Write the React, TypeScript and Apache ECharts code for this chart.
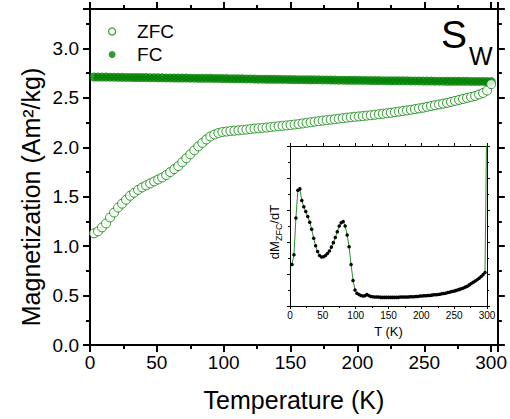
import React, { useEffect, useRef } from "react";
import * as echarts from "echarts";

// Temperatures (K) at which the points are shown
const temps: number[] = [
  3, 6, 9, 12, 15, 18, 21, 24, 27, 30,
  33, 36, 39, 42, 45, 48, 51, 54, 57, 60,
  63, 66, 69, 72, 75, 78, 81, 84, 87, 90,
  93, 96, 99, 102, 105, 108, 111, 114, 117, 120,
  123, 126, 129, 132, 135, 138, 141, 144, 147, 150,
  153, 156, 159, 162, 165, 168, 171, 174, 177, 180,
  183, 186, 189, 192, 195, 198, 201, 204, 207, 210,
  213, 216, 219, 222, 225, 228, 231, 234, 237, 240,
  243, 246, 249, 252, 255, 258, 261, 264, 267, 270,
  273, 276, 279, 282, 285, 288, 291, 294, 297, 300,
];

// ZFC magnetization (Am2/kg)
const zfcValues: number[] = [
  1.13, 1.15, 1.19, 1.23, 1.29, 1.34, 1.39, 1.43, 1.47, 1.51,
  1.54, 1.57, 1.595, 1.615, 1.635, 1.655, 1.675, 1.695, 1.72, 1.75,
  1.78, 1.81, 1.85, 1.89, 1.93, 1.97, 2.01, 2.045, 2.08, 2.11,
  2.13, 2.145, 2.155, 2.16, 2.165, 2.168, 2.172, 2.176, 2.18, 2.185,
  2.19, 2.193, 2.197, 2.2, 2.205, 2.21, 2.214, 2.218, 2.222, 2.226,
  2.231, 2.236, 2.242, 2.248, 2.254, 2.26, 2.265, 2.27, 2.275, 2.28,
  2.285, 2.29, 2.295, 2.3, 2.305, 2.309, 2.313, 2.317, 2.321, 2.325,
  2.33, 2.335, 2.34, 2.345, 2.35, 2.356, 2.362, 2.368, 2.374, 2.38,
  2.387, 2.394, 2.401, 2.41, 2.418, 2.426, 2.434, 2.442, 2.45, 2.46,
  2.47, 2.48, 2.49, 2.5, 2.51, 2.52, 2.535, 2.55, 2.575, 2.64,
];

// FC magnetization (Am2/kg)
const fcValues: number[] = [
  2.712, 2.712, 2.711, 2.711, 2.71, 2.71, 2.709, 2.709, 2.708, 2.708,
  2.707, 2.707, 2.706, 2.706, 2.705, 2.705, 2.704, 2.704, 2.703, 2.703,
  2.702, 2.702, 2.701, 2.701, 2.7, 2.7, 2.699, 2.699, 2.698, 2.698,
  2.697, 2.697, 2.696, 2.696, 2.695, 2.694, 2.694, 2.693, 2.692, 2.692,
  2.691, 2.69, 2.69, 2.689, 2.689, 2.688, 2.688, 2.687, 2.687, 2.686,
  2.686, 2.685, 2.685, 2.684, 2.684, 2.683, 2.683, 2.682, 2.682, 2.681,
  2.681, 2.68, 2.68, 2.679, 2.679, 2.678, 2.678, 2.677, 2.677, 2.676,
  2.676, 2.676, 2.675, 2.675, 2.674, 2.674, 2.674, 2.673, 2.673, 2.672,
  2.672, 2.672, 2.671, 2.671, 2.671, 2.67, 2.67, 2.67, 2.669, 2.669,
  2.669, 2.668, 2.668, 2.668, 2.667, 2.667, 2.667, 2.667, 2.666, 2.666,
];

// Inset: dM_ZFC/dT (arbitrary units)
const dMdTValues: number[] = [
  1.3, 1.6, 2.75, 3.62, 3.66, 3.3, 3.1, 2.95, 2.8, 2.62,
  2.4, 2.12, 1.88, 1.7, 1.58, 1.53, 1.54, 1.58, 1.64, 1.72,
  1.84, 1.98, 2.14, 2.32, 2.5, 2.6, 2.64, 2.5, 2.22, 1.85,
  1.3, 0.8, 0.5, 0.4, 0.36, 0.33, 0.31, 0.32, 0.36, 0.33,
  0.3, 0.29, 0.28, 0.28, 0.28, 0.27, 0.27, 0.27, 0.27, 0.27,
  0.27, 0.27, 0.27, 0.27, 0.27, 0.28, 0.28, 0.28, 0.28, 0.28,
  0.29, 0.29, 0.29, 0.3, 0.3, 0.31, 0.31, 0.32, 0.32, 0.33,
  0.33, 0.34, 0.35, 0.35, 0.36, 0.37, 0.38, 0.39, 0.4, 0.42,
  0.43, 0.45, 0.46, 0.48, 0.5, 0.52, 0.54, 0.56, 0.59, 0.62,
  0.66, 0.7, 0.74, 0.78, 0.82, 0.87, 0.92, 0.98, 1.05, 6.5,
];

const legendNames = ["ZFC", "FC"];

const FONT = "'Liberation Sans', Arial, Helvetica, sans-serif";
const GREEN = "#008000";

export default function App() {
  const ref = useRef<HTMLDivElement>(null);

  useEffect(() => {
    document.body.style.margin = "0";
    if (!ref.current) return;
    const chart = echarts.init(ref.current, undefined, { renderer: "svg" });

    const pair = (vals: number[]) => temps.map((t, i) => [t, vals[i]]);

    const mainTick = {
      show: true,
      inside: false,
      length: 7,
      lineStyle: { color: "#000", width: 2 },
    };
    const mainMinor = {
      show: true,
      splitNumber: 2,
      length: 4,
      lineStyle: { color: "#000", width: 2 },
    };
    const mainLine = { show: true, onZero: false, lineStyle: { color: "#000", width: 2 } };

    const insetTick = {
      show: true,
      inside: false,
      length: 3,
      lineStyle: { color: "#000", width: 1 },
    };
    const insetMinor = {
      show: true,
      splitNumber: 2,
      length: 2,
      lineStyle: { color: "#000", width: 1 },
    };
    const insetLine = { show: true, onZero: false, lineStyle: { color: "#000", width: 1 } };

    const option: any = {
      animation: false,
      backgroundColor: "#fff",
      textStyle: { fontFamily: FONT },
      grid: [
        { left: 90, right: 8, top: 9, bottom: 74, containLabel: false },
        {
          left: 290,
          top: 146,
          width: 197,
          height: 160,
          show: true,
          backgroundColor: "#fff",
          borderWidth: 0,
          z: 5,
        },
      ],
      legend: {
        orient: "vertical",
        left: 103,
        top: 17,
        itemWidth: 40,
        itemHeight: 7,
        itemGap: 4,
        textStyle: { fontSize: 19, color: "#000", fontFamily: FONT },
        data: [
          {
            name: legendNames[0],
            icon: "circle",
            itemStyle: { color: "#fff", borderColor: GREEN, borderWidth: 1.2 },
          },
          { name: legendNames[1], icon: "circle", itemStyle: { color: GREEN } },
        ],
      },
      xAxis: [
        {
          gridIndex: 0,
          type: "value",
          min: 0,
          max: 305,
          interval: 50,
          axisLine: mainLine,
          axisTick: mainTick,
          minorTick: mainMinor,
          splitLine: { show: false },
          axisLabel: {
            fontSize: 19,
            color: "#000",
            fontFamily: FONT,
            margin: 8,
            showMaxLabel: false,
            formatter: (v: number) => (v % 50 === 0 ? String(v) : ""),
          },
          name: "Temperature (K)",
          nameLocation: "middle",
          nameGap: 42,
          nameTextStyle: { fontSize: 25, color: "#000", fontFamily: FONT },
        },
        {
          gridIndex: 0,
          type: "value",
          position: "top",
          min: 0,
          max: 305,
          interval: 50,
          axisLine: mainLine,
          axisTick: mainTick,
          minorTick: mainMinor,
          splitLine: { show: false },
          axisLabel: { show: false },
        },
        {
          gridIndex: 1,
          type: "value",
          min: 0,
          max: 300,
          interval: 50,
          axisLine: insetLine,
          axisTick: insetTick,
          minorTick: insetMinor,
          splitLine: { show: false },
          axisLabel: { fontSize: 10, color: "#000", fontFamily: FONT, margin: 4 },
          name: "T (K)",
          nameLocation: "middle",
          nameGap: 19,
          nameTextStyle: { fontSize: 13, color: "#000", fontFamily: FONT },
          z: 6,
        },
        {
          gridIndex: 1,
          type: "value",
          position: "top",
          min: 0,
          max: 300,
          interval: 50,
          axisLine: insetLine,
          axisTick: insetTick,
          minorTick: insetMinor,
          splitLine: { show: false },
          axisLabel: { show: false },
          z: 6,
        },
      ],
      yAxis: [
        {
          gridIndex: 0,
          type: "value",
          min: 0,
          max: 3.4,
          interval: 0.5,
          axisLine: mainLine,
          axisTick: mainTick,
          minorTick: mainMinor,
          splitLine: { show: false },
          axisLabel: {
            fontSize: 19,
            color: "#000",
            fontFamily: FONT,
            margin: 11,
            showMaxLabel: false,
            formatter: (v: number) =>
              Math.abs(v * 2 - Math.round(v * 2)) < 1e-6 ? v.toFixed(1) : "",
          },
        },
        {
          gridIndex: 0,
          type: "value",
          position: "right",
          min: 0,
          max: 3.4,
          interval: 0.5,
          axisLine: mainLine,
          axisTick: mainTick,
          minorTick: mainMinor,
          splitLine: { show: false },
          axisLabel: { show: false },
        },
        {
          gridIndex: 1,
          type: "value",
          min: 0,
          max: 5,
          interval: 1,
          axisLine: insetLine,
          axisTick: insetTick,
          minorTick: insetMinor,
          splitLine: { show: false },
          axisLabel: { show: false },
          z: 6,
        },
        {
          gridIndex: 1,
          type: "value",
          position: "right",
          min: 0,
          max: 5,
          interval: 1,
          axisLine: insetLine,
          axisTick: insetTick,
          minorTick: insetMinor,
          splitLine: { show: false },
          axisLabel: { show: false },
          z: 6,
        },
      ],
      series: [
        {
          name: legendNames[1],
          type: "scatter",
          xAxisIndex: 0,
          yAxisIndex: 0,
          symbol: "circle",
          symbolSize: 9,
          itemStyle: { color: GREEN },
          data: pair(fcValues),
          z: 2,
        },
        {
          name: legendNames[0],
          type: "scatter",
          xAxisIndex: 0,
          yAxisIndex: 0,
          symbol: "circle",
          symbolSize: 9,
          itemStyle: { color: "#fff", borderColor: GREEN, borderWidth: 1 },
          data: pair(zfcValues),
          z: 3,
        },
        {
          type: "line",
          xAxisIndex: 2,
          yAxisIndex: 2,
          symbol: "circle",
          symbolSize: 3.5,
          showSymbol: true,
          itemStyle: { color: "#000" },
          lineStyle: { color: "#2a8f2a", width: 1 },
          clip: true,
          data: pair(dMdTValues),
          z: 7,
        },
      ],
      graphic: [
        {
          type: "text",
          x: 31,
          y: 197,
          rotation: Math.PI / 2,
          style: {
            text: "Magnetization (Am²/kg)",
            fontSize: 25,
            fontFamily: FONT,
            fill: "#000",
            align: "center",
            verticalAlign: "middle",
          },
        },
        {
          type: "text",
          x: 274,
          y: 232,
          rotation: Math.PI / 2,
          z: 10,
          style: {
            text: "{a|dM}{s|ZFC}{a|/dT}",
            fill: "#000",
            align: "center",
            verticalAlign: "middle",
            rich: {
              a: { fontSize: 13, fontFamily: FONT, lineHeight: 18, fill: "#000" },
              s: {
                fontSize: 9,
                fontFamily: FONT,
                lineHeight: 18,
                verticalAlign: "bottom",
                fill: "#000",
              },
            },
          },
        },
        {
          type: "text",
          x: 441,
          y: 34,
          style: {
            text: "S",
            fontSize: 39,
            fontFamily: FONT,
            fill: "#000",
            align: "left",
            verticalAlign: "middle",
          },
        },
        {
          type: "text",
          x: 469,
          y: 56,
          style: {
            text: "W",
            fontSize: 25,
            fontFamily: FONT,
            fill: "#000",
            align: "left",
            verticalAlign: "middle",
          },
        },
      ],
    };

    chart.setOption(option);
    return () => chart.dispose();
  }, []);

  return <div ref={ref} style={{ width: 510, height: 419 }} />;
}
